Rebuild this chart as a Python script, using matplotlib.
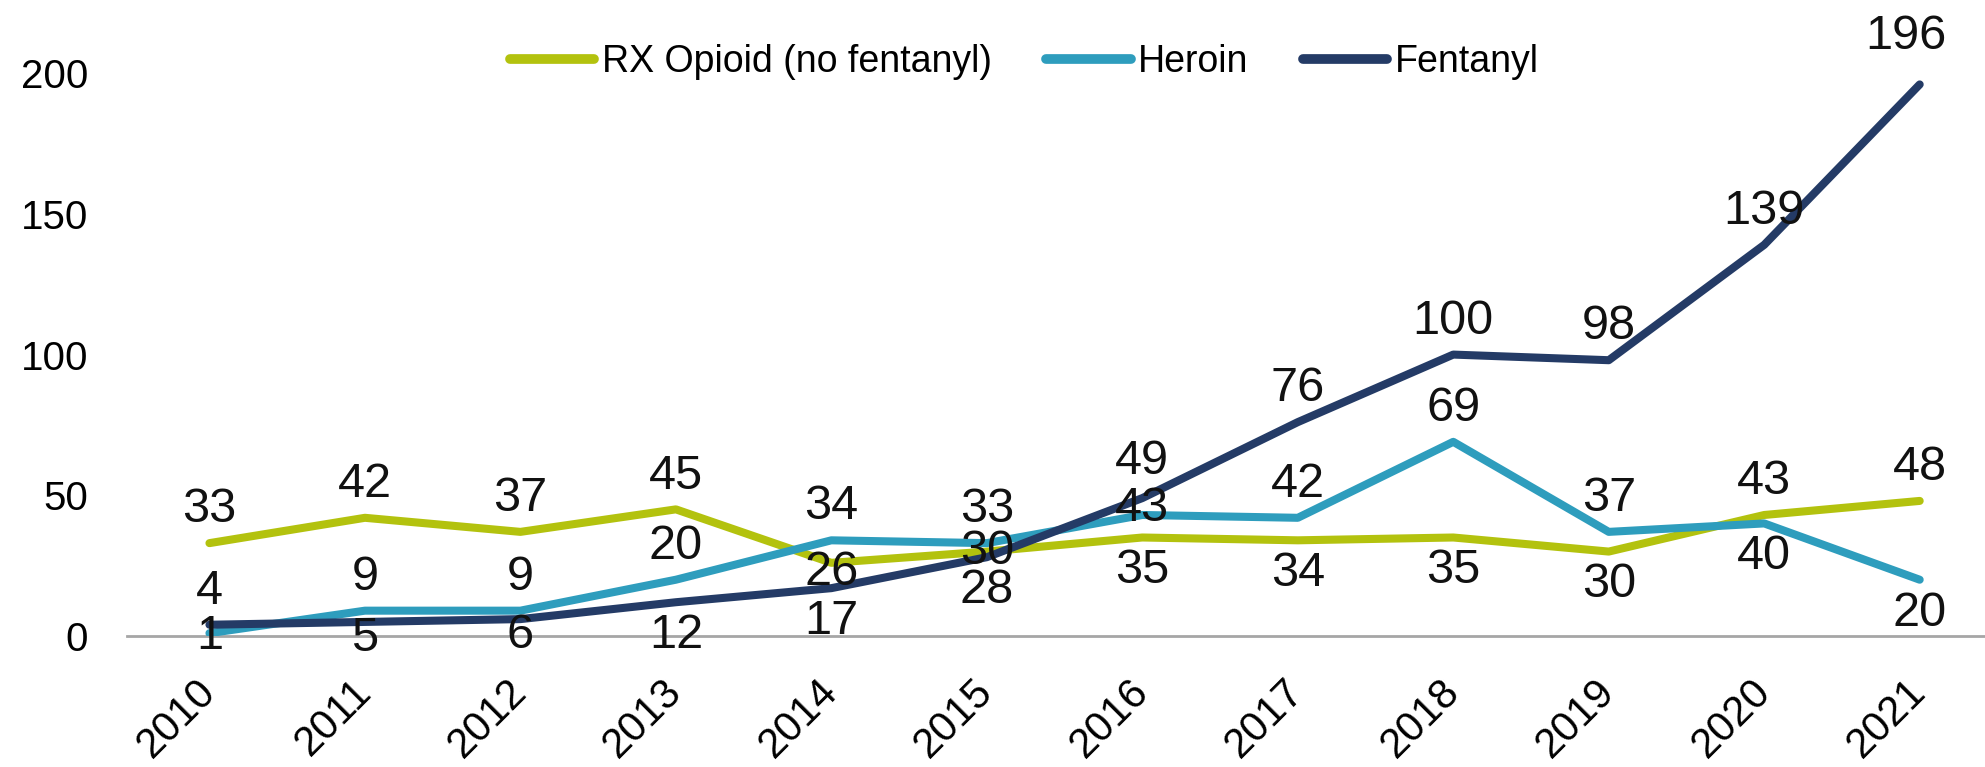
import matplotlib
matplotlib.use("Agg")
import matplotlib.pyplot as plt

plt.rcParams['font.family'] = ['Liberation Sans', 'DejaVu Sans']

# data
years = ['2010', '2011', '2012', '2013', '2014', '2015',
         '2016', '2017', '2018', '2019', '2020', '2021']
rx_opioid = [33, 42, 37, 45, 26, 30, 35, 34, 35, 30, 43, 48]
heroin = [1, 9, 9, 20, 34, 33, 43, 42, 69, 37, 40, 20]
fentanyl = [4, 5, 6, 12, 17, 28, 49, 76, 100, 98, 139, 196]

# where each value label sits: 1 above, -1 below, 0 on the point
rx_pos = [1, 1, 1, 1, -0.3, 0, -1, -1, -1, -1, 1, 1]
her_pos = [-0.1, 1, 1, 1, 1, 1, 0.2, 1, 1, 1, -1, -1]
fen_pos = [1, -0.5, -0.5, -1, -1, -1, 1.1, 1, 1, 1, 1, 1.45]

series = [
    ('RX Opioid (no fentanyl)', rx_opioid, rx_pos, '#B3C20E'),
    ('Heroin', heroin, her_pos, '#2E9DBD'),
    ('Fentanyl', fentanyl, fen_pos, '#243B66'),
]

fig = plt.figure(figsize=(19.85, 7.67), dpi=100)
ax = fig.add_axes([0.064, 0.1708, 0.936, 0.8292])

x = list(range(len(years)))
for name, vals, pos, col in series:
    ax.plot(x, vals, color=col, lw=5.8, label=name, solid_capstyle='round')
    for i, (xi, v, p) in enumerate(zip(x, vals, pos)):
        dx = -10 if (name == 'Fentanyl' and i == len(vals) - 1) else 0
        ax.annotate(str(v), (xi, v), xytext=(dx, 24 * p), textcoords='offset points',
                    ha='center', va='center', fontsize=35, color='#111111')

ax.set_xlim(-0.53, 11.42)
ax.set_ylim(0, 226)
ax.set_yticks([0, 50, 100, 150, 200])
ax.tick_params(axis='y', labelsize=29, length=0, pad=28)
ax.set_xticks(x)
ax.set_xticklabels(years, rotation=45, ha='right', va='center',
                   rotation_mode='anchor', fontsize=30)
ax.tick_params(axis='x', length=0, pad=36)

for s in ['top', 'right', 'left']:
    ax.spines[s].set_visible(False)
ax.spines['bottom'].set_color('#A6A6A6')
ax.spines['bottom'].set_linewidth(2)
ax.spines['bottom'].set_zorder(0)

leg = ax.legend(loc='center', bbox_to_anchor=(0.483, 0.903), ncol=3, frameon=False,
                fontsize=27, handlelength=2.25, handletextpad=0.2, columnspacing=1.45)
for h in leg.get_lines():
    h.set_linewidth(7)

fig.savefig('out.png', dpi=100)
